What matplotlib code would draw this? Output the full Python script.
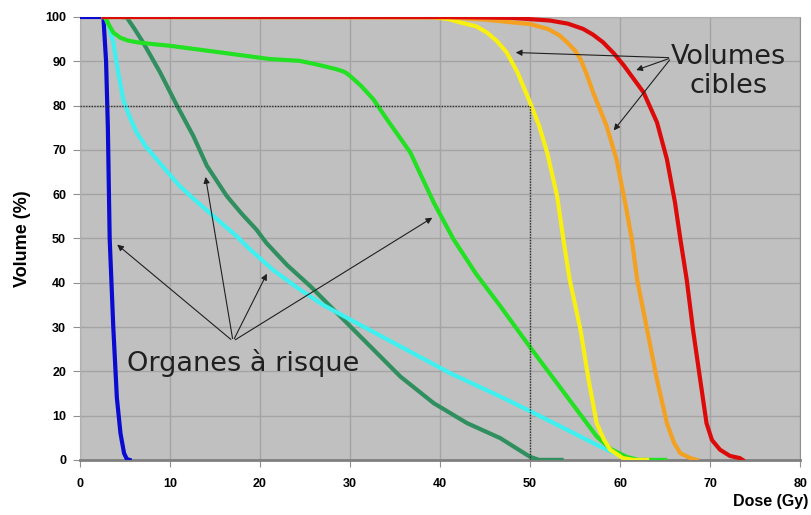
import matplotlib
matplotlib.use("Agg")
import matplotlib.pyplot as plt

# dose (Gy) / volume (%)
blue_x = [0, 2.6, 2.9, 3.1, 3.3, 3.5, 3.7, 4.1, 4.5, 4.9, 5.2, 5.5]
blue_y = [100, 100, 90, 75, 50, 40, 30, 14, 6, 1.5, 0.2, 0]

cyan_x = [2.6, 2.8, 3.2, 3.7, 4.2, 4.8, 5.5, 6.3, 7.3, 8.5, 9.8, 11.1, 12.7, 14.4, 17.4, 18.9, 21.5, 24.4, 27.0, 30.0, 35.6, 41.1, 46.7, 50.4, 54.1, 57.8, 59.5, 60.7, 62.0]
cyan_y = [100, 100, 98, 94.3, 88, 81.4, 77.5, 73.9, 70.8, 67.9, 64.8, 61.8, 58.8, 55.8, 50.5, 47.5, 42.8, 38.5, 35.0, 31.7, 25.6, 19.6, 14.3, 10.6, 6.8, 3.0, 1.4, 0.4, 0]

dkgreen_x = [2.6, 4.5, 5.2, 6.0, 7.0, 8.9, 10.7, 12.6, 14.1, 16.3, 18.0, 19.6, 20.7, 23.0, 25.6, 30.0, 35.6, 39.3, 43.0, 46.7, 48.5, 50.0, 51.0, 53.5]
dkgreen_y = [100, 100, 99.9, 97.5, 94.3, 87.5, 80.3, 73.1, 66.4, 59.6, 55.5, 52.0, 49.0, 44.0, 39.2, 30.2, 18.8, 12.8, 8.3, 4.9, 2.6, 0.7, 0, 0]

green_x = [2.6, 2.8, 3.2, 3.7, 4.5, 5.3, 6.3, 8.0, 10.0, 15.6, 21.1, 24.4, 26.5, 28.5, 29.4, 30.0, 31.2, 32.6, 34.1, 36.7, 39.3, 41.5, 44.0, 46.7, 50.2, 54.1, 57.4, 59.0, 60.7, 62.0, 65.0]
green_y = [100, 100, 98.3, 96.5, 95.3, 94.7, 94.3, 93.9, 93.5, 92.0, 90.5, 90.1, 89.2, 88.2, 87.6, 86.7, 84.5, 81.4, 76.9, 69.4, 58.1, 49.8, 42.0, 34.7, 24.9, 14.3, 5.3, 2.4, 0.7, 0, 0]

yellow_x = [2.6, 39.0, 41.0, 42.2, 44.0, 45.2, 46.3, 47.4, 48.6, 50.0, 51.0, 51.9, 53.0, 53.7, 54.4, 55.6, 56.5, 57.4, 58.2, 58.9, 60.3, 61.5, 63.0]
yellow_y = [100, 100, 99.5, 98.8, 97.9, 96.5, 94.6, 92.0, 87.5, 80.7, 75.5, 69.4, 59.6, 49.8, 40.7, 29.4, 18.1, 8.3, 4.6, 2.3, 0.4, 0, 0]

orange_x = [2.6, 41.1, 45.0, 50.0, 52.0, 53.3, 54.1, 55.0, 55.6, 56.3, 57.0, 58.5, 59.6, 60.7, 61.3, 61.9, 63.0, 64.1, 65.2, 66.0, 66.7, 67.8, 68.5]
orange_y = [100, 99.9, 99.4, 98.4, 97.3, 95.8, 94.3, 92.4, 90.5, 87.0, 83.0, 75.4, 67.9, 56.6, 49.8, 40.7, 29.4, 18.1, 8.3, 3.8, 1.5, 0.4, 0]

red_x = [2.6, 41.0, 48.0, 52.2, 54.2, 55.9, 57.0, 58.1, 59.3, 60.4, 62.6, 64.1, 65.2, 66.1, 66.7, 67.4, 68.1, 68.9, 69.6, 70.2, 71.1, 72.2, 73.3, 73.6]
red_y = [100, 100, 99.8, 99.2, 98.5, 97.3, 96.0, 94.3, 91.8, 89.1, 83.0, 76.2, 67.9, 58.1, 49.8, 40.7, 29.4, 18.1, 8.3, 4.5, 2.3, 0.9, 0.4, 0]

x_ticks = [0, 10, 20, 30, 40, 50, 60, 70, 80]
y_ticks = [0, 10, 20, 30, 40, 50, 60, 70, 80, 90, 100]

# arrows: (tail), [heads]
cibles_tail = (65.7, 90.8)
cibles_heads = [(48.1, 92.0), (61.5, 87.8), (59.1, 73.9)]
organes_tail = (17.0, 26.8)
organes_heads = [(3.9, 49.0), (13.9, 64.5), (20.9, 42.6), (39.4, 55.0)]

fig = plt.figure(figsize=(8.11, 5.15), dpi=100)
ax = fig.add_axes([0.0986, 0.107, 0.888, 0.860])
ax.set_facecolor('#c0c0c0')

ax.plot(blue_x, blue_y, color='#0a0ad0', lw=3, zorder=3)
ax.plot(dkgreen_x, dkgreen_y, color='#2f8f5f', lw=3, zorder=3)
ax.plot(cyan_x, cyan_y, color='#3ff0f0', lw=3, zorder=3)
ax.plot(green_x, green_y, color='#22e022', lw=3, zorder=3)
ax.plot(yellow_x, yellow_y, color='#f8f010', lw=3, zorder=3)
ax.plot(orange_x, orange_y, color='#f4a020', lw=3, zorder=3)
ax.plot(red_x, red_y, color='#dd0a0a', lw=3, zorder=3)

# dotted guide at 50 Gy / 80 %
ax.plot([0, 50, 50], [80, 80, 0], color='#303030', lw=1.0, ls=(0, (1, 1)), zorder=4)

ax.set_xlim(0, 80)
ax.set_ylim(0, 100)
ax.set_xticks(x_ticks)
ax.set_yticks(y_ticks)
ax.grid(True, color='#a4a4a4', lw=1)
ax.set_axisbelow(True)
ax.tick_params(labelsize=9, length=5, color='#909090')
ax.tick_params(axis='x', pad=8)
ax.tick_params(axis='y', pad=5)
for lab in ax.get_xticklabels() + ax.get_yticklabels():
    lab.set_fontweight('bold')
    lab.set_family('Liberation Sans')
for s in ['top', 'left']:
    ax.spines[s].set_color('#b0b0b0')
ax.spines['right'].set_color('#909090')
ax.spines['bottom'].set_color('#808080')
ax.spines['bottom'].set_linewidth(2)

ax.set_ylabel('Volume (%)', fontsize=13, fontweight='bold', family='Liberation Sans', labelpad=10)
fig.text(0.997, 0.026, 'Dose (Gy)', fontsize=11.5, fontweight='bold', family='Liberation Sans',
         ha='right', va='center')

for h in cibles_heads:
    ax.annotate('', xy=h, xytext=cibles_tail,
                arrowprops=dict(arrowstyle='-|>', color='#202020', lw=0.8, mutation_scale=9), zorder=5)
for h in organes_heads:
    ax.annotate('', xy=h, xytext=organes_tail,
                arrowprops=dict(arrowstyle='-|>', color='#202020', lw=0.8, mutation_scale=9), zorder=5)

ax.text(72.0, 87.6, 'Volumes\ncibles', fontsize=19.5, ha='center', va='center',
        color='#202020', linespacing=1.15, zorder=6)
ax.text(5.2, 21.9, 'Organes à risque', fontsize=19.5, ha='left', va='center',
        color='#202020', zorder=6)

fig.savefig('out.png', dpi=100)
